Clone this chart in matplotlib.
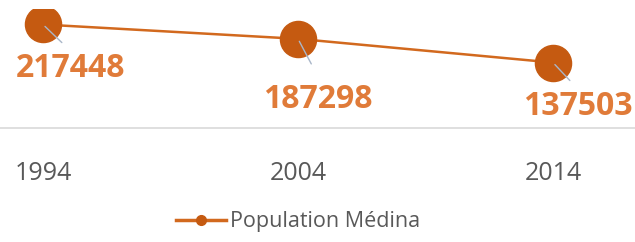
"""Population de la Médina, recensements 1994-2014."""

import matplotlib

matplotlib.use("Agg")
import matplotlib.pyplot as plt
from matplotlib.lines import Line2D

years = ["1994", "2004", "2014"]
population = [217448, 187298, 137503]
series_name = "Population Médina"

# label offsets from the marker centre, in points
label_offsets = [(20, -32), (14, -44), (18, -32)]

plt.rcParams["font.family"] = ["Open Sans", "DejaVu Sans"]

fig = plt.figure(figsize=(6.35, 2.42), dpi=100)
ax = fig.add_axes([0.0, 1 - 128 / 242, 1.0, (128 - 9) / 242])

x = list(range(len(years)))
ax.plot(x, population, color="#D2691E", lw=1.8, zorder=2)
ax.plot(x, population, ls="none", marker="o", ms=26,
        mfc="#C55A11", mec="#C55A11", zorder=3)

for xi, val, off in zip(x, population, label_offsets):
    ax.annotate(
        "", xy=(xi, val), xytext=(off[0] * 0.75, off[1] * 0.45),
        textcoords="offset points",
        arrowprops=dict(arrowstyle="-", color="#A9B6C8", lw=1.0),
        zorder=4,
    )
    ax.annotate(
        f"{val}", xy=(xi, val), xytext=off, textcoords="offset points",
        ha="center", va="center", fontsize=23, fontweight="bold",
        color="#E07B39", zorder=5,
    )

ax.set_xlim(-43 / 255, 592 / 255)
ax.set_ylim(0, 250000)
ax.set_xticks(x)
ax.set_xticklabels(years, fontsize=18, color="#595959")
ax.tick_params(axis="x", length=0, pad=24)
ax.set_yticks([])
for side in ("top", "left", "right"):
    ax.spines[side].set_visible(False)
ax.spines["bottom"].set_color("#D9D9D9")
ax.spines["bottom"].set_linewidth(1.2)

handle = Line2D([], [], color="#D2691E", lw=2.5, marker="o", ms=7,
                mfc="#C55A11", mec="#C55A11")
fig.legend([handle], [series_name], loc="center", bbox_to_anchor=(298 / 635, 1 - 222 / 242),
           frameon=False, fontsize=15.5, handlelength=2.3, handletextpad=0.2,
           labelcolor="#595959")

fig.savefig("out.png", dpi=100)
